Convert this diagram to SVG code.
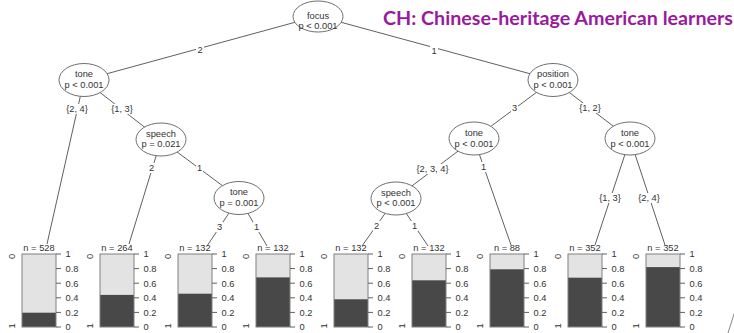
<svg xmlns="http://www.w3.org/2000/svg" width="734" height="333" viewBox="0 0 734 333">
<style>
text{font-family:"Liberation Sans",Arial,sans-serif;font-size:9.3px;fill:#333}
.nd ellipse{fill:#fff;stroke:#707070;stroke-width:1}
.mid{text-anchor:middle}
.edges line{stroke:#606060;stroke-width:1}
.lb{fill:#fff}
.bar{stroke:#808080;stroke-width:1}
.lt{fill:#e3e3e3}
.dk{fill:#484848}
.tk{stroke:#606060;stroke-width:1}
.title{font-family:Lato,"Open Sans",sans-serif;font-weight:bold;font-size:18.5px;fill:#9a1a9c}
</style>
<rect width="734" height="333" fill="#fff"/>
<text class="title" x="383" y="25" textLength="350" lengthAdjust="spacingAndGlyphs">CH: Chinese-heritage American learners</text>
<g id="connectors" class="edges">
<line x1="318" y1="16" x2="84" y2="80"/>
<line x1="318" y1="16" x2="553" y2="80"/>
<line x1="84" y1="80" x2="47" y2="244"/>
<line x1="84" y1="80" x2="161" y2="140"/>
<line x1="161" y1="140" x2="129" y2="244"/>
<line x1="161" y1="140" x2="239" y2="198"/>
<line x1="239" y1="198" x2="207" y2="246"/>
<line x1="239" y1="198" x2="267" y2="246"/>
<line x1="553" y1="80" x2="474" y2="139"/>
<line x1="553" y1="80" x2="630" y2="139"/>
<line x1="474" y1="139" x2="396" y2="198"/>
<line x1="474" y1="139" x2="511" y2="245"/>
<line x1="396" y1="198" x2="362" y2="246"/>
<line x1="396" y1="198" x2="428" y2="246"/>
<line x1="630" y1="139" x2="595" y2="245"/>
<line x1="630" y1="139" x2="665" y2="245"/>
<rect class="lb" x="196" y="45" width="8" height="10"/><text class="mid" x="200" y="53.3">2</text>
<rect class="lb" x="430" y="46" width="8" height="10"/><text class="mid" x="434" y="54.3">1</text>
<rect class="lb" x="66" y="104" width="22" height="10"/><text class="mid" x="77" y="112.3">{2, 4}</text>
<rect class="lb" x="111" y="104" width="22" height="10"/><text class="mid" x="122" y="112.3">{1, 3}</text>
<rect class="lb" x="148" y="163" width="7" height="10"/><text class="mid" x="151.5" y="171.3">2</text>
<rect class="lb" x="196" y="163" width="7" height="10"/><text class="mid" x="199.5" y="171.3">1</text>
<rect class="lb" x="216" y="222" width="7" height="10"/><text class="mid" x="219.5" y="230.3">3</text>
<rect class="lb" x="253" y="222" width="7" height="10"/><text class="mid" x="256.5" y="230.3">1</text>
<rect class="lb" x="511" y="103" width="7" height="10"/><text class="mid" x="514.5" y="111.3">3</text>
<rect class="lb" x="579" y="103" width="22" height="10"/><text class="mid" x="590" y="111.3">{1, 2}</text>
<rect class="lb" x="417" y="164" width="31" height="10"/><text class="mid" x="432.5" y="172.3">{2, 3, 4}</text>
<rect class="lb" x="480" y="162" width="7" height="10"/><text class="mid" x="483.5" y="170.3">1</text>
<rect class="lb" x="373" y="221" width="7" height="10"/><text class="mid" x="376.5" y="229.3">2</text>
<rect class="lb" x="411" y="221" width="7" height="10"/><text class="mid" x="414.5" y="229.3">1</text>
<rect class="lb" x="599" y="193" width="22" height="10"/><text class="mid" x="610" y="201.3">{1, 3}</text>
<rect class="lb" x="638" y="193" width="22" height="10"/><text class="mid" x="649" y="201.3">{2, 4}</text>
</g>
<g id="n1" class="nd"><ellipse cx="318" cy="16.5" rx="25" ry="15.5"/><text class="mid" x="318" y="18.5">focus</text><text class="mid" x="318" y="29">p &lt; 0.001</text></g>
<g id="n2" class="nd"><ellipse cx="84" cy="80" rx="25" ry="16.5"/><text class="mid" x="84" y="76.7">tone</text><text class="mid" x="84" y="88.3">p &lt; 0.001</text></g>
<g id="n4" class="nd"><ellipse cx="161" cy="139.5" rx="25" ry="16.5"/><text class="mid" x="161" y="136.5">speech</text><text class="mid" x="161" y="146.5">p = 0.021</text></g>
<g id="n6" class="nd"><ellipse cx="239" cy="198" rx="25" ry="16.5"/><text class="mid" x="239" y="194.5">tone</text><text class="mid" x="239" y="205.5">p = 0.001</text></g>
<g id="n9" class="nd"><ellipse cx="553" cy="80" rx="25" ry="16.5"/><text class="mid" x="553" y="76.5">position</text><text class="mid" x="553" y="88">p &lt; 0.001</text></g>
<g id="n10" class="nd"><ellipse cx="474" cy="138.5" rx="25" ry="16.5"/><text class="mid" x="474" y="136">tone</text><text class="mid" x="474" y="146.7">p &lt; 0.001</text></g>
<g id="n11" class="nd"><ellipse cx="396" cy="198.5" rx="25" ry="16.5"/><text class="mid" x="396" y="195.5">speech</text><text class="mid" x="396" y="206">p &lt; 0.001</text></g>
<g id="n15" class="nd"><ellipse cx="630" cy="138.5" rx="25" ry="16.5"/><text class="mid" x="630" y="136">tone</text><text class="mid" x="630" y="146.7">p &lt; 0.001</text></g>

<g id="t3">
<text class="mid" x="39" y="251">n = 528</text>
<rect class="lt" x="22" y="254" width="34" height="73"/><rect class="dk" x="22" y="312.7" width="34" height="14.3"/><rect class="bar" x="22" y="254" width="34" height="73" fill="none"/>
<path class="tk" d="M56 254h5M56 268.6h5M56 283.2h5M56 297.8h5M56 312.4h5M56 327h5"/>
<text x="65.5" y="257.3">1</text><text x="65.5" y="271.9">0.8</text><text x="65.5" y="286.5">0.6</text><text x="65.5" y="301.1">0.4</text><text x="65.5" y="315.7">0.2</text><text x="65.5" y="330.3">0</text>
<text class="mid" transform="translate(15 256.5) rotate(-90)">0</text><text class="mid" transform="translate(15 326) rotate(-90)">1</text>
</g>
<g id="t5">
<text class="mid" x="117" y="251">n = 264</text>
<rect class="lt" x="100" y="254" width="34" height="73"/><rect class="dk" x="100" y="294.9" width="34" height="32.1"/><rect class="bar" x="100" y="254" width="34" height="73" fill="none"/>
<path class="tk" d="M134 254h5M134 268.6h5M134 283.2h5M134 297.8h5M134 312.4h5M134 327h5"/>
<text x="143.5" y="257.3">1</text><text x="143.5" y="271.9">0.8</text><text x="143.5" y="286.5">0.6</text><text x="143.5" y="301.1">0.4</text><text x="143.5" y="315.7">0.2</text><text x="143.5" y="330.3">0</text>
<text class="mid" transform="translate(93 256.5) rotate(-90)">0</text><text class="mid" transform="translate(93 326) rotate(-90)">1</text>
</g>
<g id="t7">
<text class="mid" x="195" y="251">n = 132</text>
<rect class="lt" x="178" y="254" width="34" height="73"/><rect class="dk" x="178" y="293.7" width="34" height="33.3"/><rect class="bar" x="178" y="254" width="34" height="73" fill="none"/>
<path class="tk" d="M212 254h5M212 268.6h5M212 283.2h5M212 297.8h5M212 312.4h5M212 327h5"/>
<text x="221.5" y="257.3">1</text><text x="221.5" y="271.9">0.8</text><text x="221.5" y="286.5">0.6</text><text x="221.5" y="301.1">0.4</text><text x="221.5" y="315.7">0.2</text><text x="221.5" y="330.3">0</text>
<text class="mid" transform="translate(171 256.5) rotate(-90)">0</text><text class="mid" transform="translate(171 326) rotate(-90)">1</text>
</g>
<g id="t8">
<text class="mid" x="273" y="251">n = 132</text>
<rect class="lt" x="256" y="254" width="34" height="73"/><rect class="dk" x="256" y="277.4" width="34" height="49.6"/><rect class="bar" x="256" y="254" width="34" height="73" fill="none"/>
<path class="tk" d="M290 254h5M290 268.6h5M290 283.2h5M290 297.8h5M290 312.4h5M290 327h5"/>
<text x="299.5" y="257.3">1</text><text x="299.5" y="271.9">0.8</text><text x="299.5" y="286.5">0.6</text><text x="299.5" y="301.1">0.4</text><text x="299.5" y="315.7">0.2</text><text x="299.5" y="330.3">0</text>
<text class="mid" transform="translate(249 256.5) rotate(-90)">0</text><text class="mid" transform="translate(249 326) rotate(-90)">1</text>
</g>
<g id="t12">
<text class="mid" x="351" y="251">n = 132</text>
<rect class="lt" x="334" y="254" width="34" height="73"/><rect class="dk" x="334" y="299.3" width="34" height="27.7"/><rect class="bar" x="334" y="254" width="34" height="73" fill="none"/>
<path class="tk" d="M368 254h5M368 268.6h5M368 283.2h5M368 297.8h5M368 312.4h5M368 327h5"/>
<text x="377.5" y="257.3">1</text><text x="377.5" y="271.9">0.8</text><text x="377.5" y="286.5">0.6</text><text x="377.5" y="301.1">0.4</text><text x="377.5" y="315.7">0.2</text><text x="377.5" y="330.3">0</text>
<text class="mid" transform="translate(327 256.5) rotate(-90)">0</text><text class="mid" transform="translate(327 326) rotate(-90)">1</text>
</g>
<g id="t13">
<text class="mid" x="429" y="251">n = 132</text>
<rect class="lt" x="412" y="254" width="34" height="73"/><rect class="dk" x="412" y="280.3" width="34" height="46.7"/><rect class="bar" x="412" y="254" width="34" height="73" fill="none"/>
<path class="tk" d="M446 254h5M446 268.6h5M446 283.2h5M446 297.8h5M446 312.4h5M446 327h5"/>
<text x="455.5" y="257.3">1</text><text x="455.5" y="271.9">0.8</text><text x="455.5" y="286.5">0.6</text><text x="455.5" y="301.1">0.4</text><text x="455.5" y="315.7">0.2</text><text x="455.5" y="330.3">0</text>
<text class="mid" transform="translate(405 256.5) rotate(-90)">0</text><text class="mid" transform="translate(405 326) rotate(-90)">1</text>
</g>
<g id="t14">
<text class="mid" x="507" y="251">n = 88</text>
<rect class="lt" x="490" y="254" width="34" height="73"/><rect class="dk" x="490" y="269.3" width="34" height="57.7"/><rect class="bar" x="490" y="254" width="34" height="73" fill="none"/>
<path class="tk" d="M524 254h5M524 268.6h5M524 283.2h5M524 297.8h5M524 312.4h5M524 327h5"/>
<text x="533.5" y="257.3">1</text><text x="533.5" y="271.9">0.8</text><text x="533.5" y="286.5">0.6</text><text x="533.5" y="301.1">0.4</text><text x="533.5" y="315.7">0.2</text><text x="533.5" y="330.3">0</text>
<text class="mid" transform="translate(483 256.5) rotate(-90)">0</text><text class="mid" transform="translate(483 326) rotate(-90)">1</text>
</g>
<g id="t16">
<text class="mid" x="585" y="251">n = 352</text>
<rect class="lt" x="568" y="254" width="34" height="73"/><rect class="dk" x="568" y="277.7" width="34" height="49.3"/><rect class="bar" x="568" y="254" width="34" height="73" fill="none"/>
<path class="tk" d="M602 254h5M602 268.6h5M602 283.2h5M602 297.8h5M602 312.4h5M602 327h5"/>
<text x="611.5" y="257.3">1</text><text x="611.5" y="271.9">0.8</text><text x="611.5" y="286.5">0.6</text><text x="611.5" y="301.1">0.4</text><text x="611.5" y="315.7">0.2</text><text x="611.5" y="330.3">0</text>
<text class="mid" transform="translate(561 256.5) rotate(-90)">0</text><text class="mid" transform="translate(561 326) rotate(-90)">1</text>
</g>
<g id="t17">
<text class="mid" x="663" y="251">n = 352</text>
<rect class="lt" x="646" y="254" width="34" height="73"/><rect class="dk" x="646" y="267.1" width="34" height="59.9"/><rect class="bar" x="646" y="254" width="34" height="73" fill="none"/>
<path class="tk" d="M680 254h5M680 268.6h5M680 283.2h5M680 297.8h5M680 312.4h5M680 327h5"/>
<text x="689.5" y="257.3">1</text><text x="689.5" y="271.9">0.8</text><text x="689.5" y="286.5">0.6</text><text x="689.5" y="301.1">0.4</text><text x="689.5" y="315.7">0.2</text><text x="689.5" y="330.3">0</text>
<text class="mid" transform="translate(639 256.5) rotate(-90)">0</text><text class="mid" transform="translate(639 326) rotate(-90)">1</text>
</g>
<line x1="728" y1="333" x2="735" y2="311" stroke="#888" stroke-width="1"/>
</svg>
